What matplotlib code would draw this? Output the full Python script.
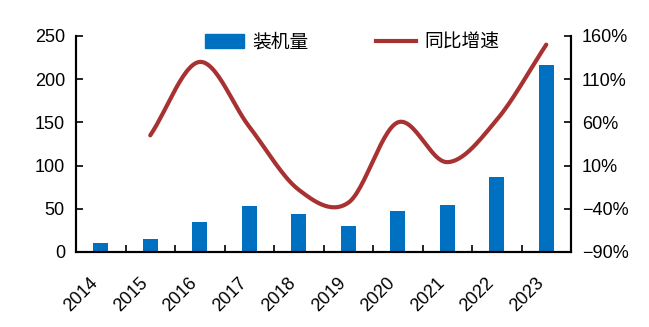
import numpy as np
import matplotlib.pyplot as plt
from matplotlib.lines import Line2D
from matplotlib.patches import Patch
import matplotlib.transforms as mtransforms

plt.rcParams['font.family'] = ['Liberation Sans', 'Noto Sans CJK SC', 'DejaVu Sans']

years = ['2014', '2015', '2016', '2017', '2018', '2019', '2020', '2021', '2022', '2023']
capacity = [10, 15, 35, 53, 44, 30, 47, 54, 87, 217]
growth = [None, 45, 130, 55, -18, -33, 60, 14, 63, 150]

bar_color = '#0070C0'
line_color = '#A83232'


def smooth(xs, ys, n=30):
    # catmull-rom, like the smoothed line in excel
    xs = np.asarray(xs, float)
    ys = np.asarray(ys, float)
    px = np.concatenate([[2 * xs[0] - xs[1]], xs, [2 * xs[-1] - xs[-2]]])
    py = np.concatenate([[2 * ys[0] - ys[1]], ys, [2 * ys[-1] - ys[-2]]])
    outx, outy = [], []
    t = np.linspace(0, 1, n)
    for i in range(1, len(px) - 2):
        for p, out in ((px, outx), (py, outy)):
            p0, p1, p2, p3 = p[i - 1], p[i], p[i + 1], p[i + 2]
            out.extend(0.5 * (2 * p1 + (-p0 + p2) * t
                              + (2 * p0 - 5 * p1 + 4 * p2 - p3) * t ** 2
                              + (-p0 + 3 * p1 - 3 * p2 + p3) * t ** 3))
    return np.array(outx), np.array(outy)


fig = plt.figure(figsize=(6.49, 3.27), dpi=100)
ax = fig.add_axes([76 / 649, 1 - 252 / 327, 495 / 649, 216 / 327])
x = np.arange(len(years))
ax.bar(x, capacity, width=0.3, color=bar_color, zorder=2)
ax.set_xlim(-0.5, len(years) - 0.5)
ax.set_ylim(0, 250)
ax.set_yticks(range(0, 251, 50))

ax2 = ax.twinx()
gx = [i for i, g in enumerate(growth) if g is not None]
gy = [g for g in growth if g is not None]
sx, sy = smooth(gx, gy)
ax2.plot(sx, sy, color=line_color, lw=3, solid_capstyle='round', zorder=3)
ax2.set_ylim(-90, 160)
ax2.set_yticks(range(-90, 161, 50))
ax2.set_yticklabels([f'{v}%'.replace('-', '\u2212') for v in range(-90, 161, 50)])

# ticks between categories, labels at centres
ax.set_xticks(np.arange(-0.5, len(years), 1.0), minor=True)
ax.set_xticks(x)
ax.set_xticklabels(years, rotation=45, ha='right', va='top', rotation_mode='anchor')
ax.tick_params(axis='x', which='major', length=0, pad=16, labelsize=13)
ax.tick_params(axis='x', which='minor', direction='in', length=5, width=1.2)
ax.tick_params(axis='y', direction='in', length=5, width=1.2, pad=8, labelsize=13)
ax2.tick_params(axis='y', direction='in', length=5, width=1.2, pad=8, labelsize=13)
offset = mtransforms.ScaledTranslation(-8 / 72, 0, fig.dpi_scale_trans)
for lab in ax.get_xticklabels():
    lab.set_transform(lab.get_transform() + offset)

for a in (ax, ax2):
    a.spines['top'].set_visible(False)
    for s in ('left', 'right', 'bottom'):
        a.spines[s].set_linewidth(1.5)

handles = [Patch(color=bar_color), Line2D([], [], color=line_color, lw=3)]
leg = ax.legend(handles, ['装机量', '同比增速'], ncol=2, frameon=False,
                loc='center left', bbox_to_anchor=(0.26, 0.972), borderpad=0,
                borderaxespad=0, handlelength=2.1, handleheight=0.75,
                columnspacing=3.6, handletextpad=0.45,
                prop={'family': ['Noto Sans CJK SC'], 'size': 13.5})
leg.set_zorder(5)

fig.savefig('out.png', dpi=100)
